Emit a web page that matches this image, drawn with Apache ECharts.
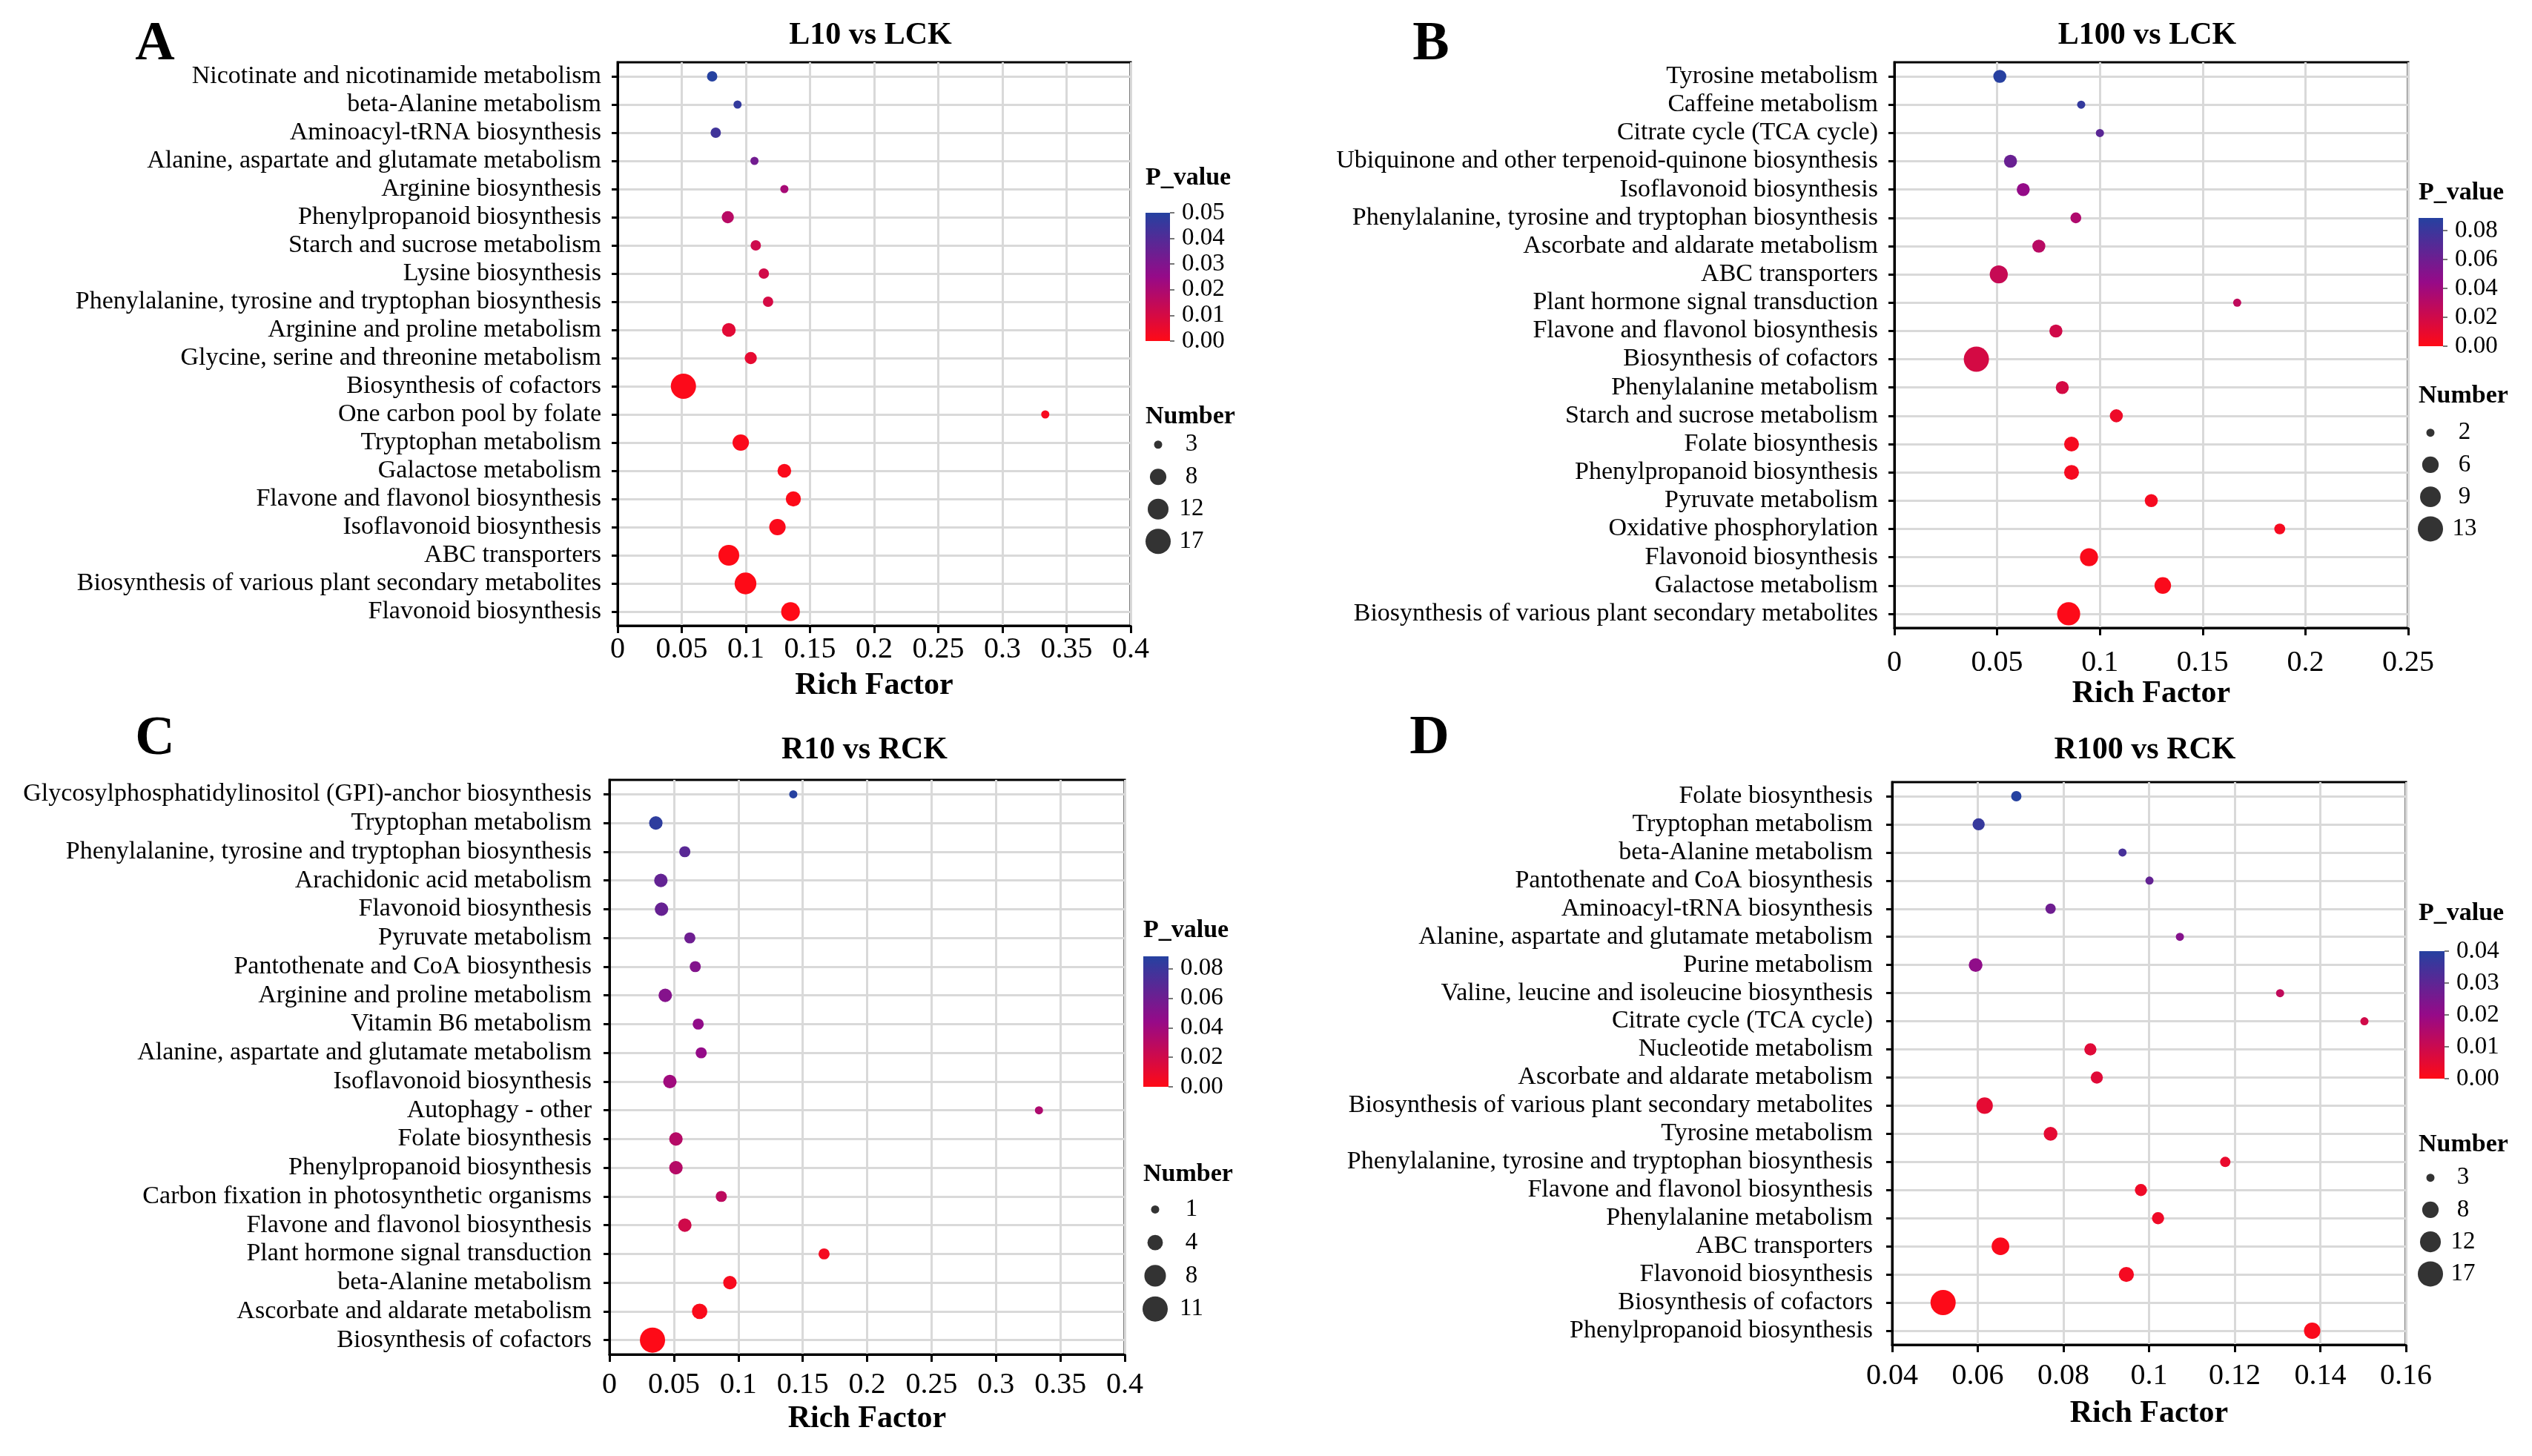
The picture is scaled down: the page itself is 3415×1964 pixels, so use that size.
<!DOCTYPE html>
<html><head><meta charset="utf-8">
<script src="https://cdn.jsdelivr.net/npm/echarts@6/dist/echarts.min.js"></script>
<style>html,body{margin:0;padding:0;background:#fff}#c{width:3415px;height:1964px}</style>
</head><body><div id="c"></div>
<script>
// ---------- DATA ----------
const catsA = ['Nicotinate and nicotinamide metabolism','beta-Alanine metabolism','Aminoacyl-tRNA biosynthesis','Alanine, aspartate and glutamate metabolism','Arginine biosynthesis','Phenylpropanoid biosynthesis','Starch and sucrose metabolism','Lysine biosynthesis','Phenylalanine, tyrosine and tryptophan biosynthesis','Arginine and proline metabolism','Glycine, serine and threonine metabolism','Biosynthesis of cofactors','One carbon pool by folate','Tryptophan metabolism','Galactose metabolism','Flavone and flavonol biosynthesis','Isoflavonoid biosynthesis','ABC transporters','Biosynthesis of various plant secondary metabolites','Flavonoid biosynthesis'];
const richA = [0.0737,0.0935,0.0765,0.1067,0.1300,0.0859,0.1077,0.1140,0.1173,0.0867,0.1038,0.0513,0.3334,0.0960,0.1300,0.1370,0.1246,0.0867,0.0997,0.1348];
const pA = [0.050,0.047,0.044,0.033,0.021,0.017,0.012,0.011,0.010,0.007,0.006,0.0008,0.002,0.001,0.001,0.0005,0.001,0.0003,0.0002,0.0001];
const numA = [4,3,4,3,3,5,4,4,4,6,5,17,3,8,6,7,8,12,13,10];

const catsB = ['Tyrosine metabolism','Caffeine metabolism','Citrate cycle (TCA cycle)','Ubiquinone and other terpenoid-quinone biosynthesis','Isoflavonoid biosynthesis','Phenylalanine, tyrosine and tryptophan biosynthesis','Ascorbate and aldarate metabolism','ABC transporters','Plant hormone signal transduction','Flavone and flavonol biosynthesis','Biosynthesis of cofactors','Phenylalanine metabolism','Starch and sucrose metabolism','Folate biosynthesis','Phenylpropanoid biosynthesis','Pyruvate metabolism','Oxidative phosphorylation','Flavonoid biosynthesis','Galactose metabolism','Biosynthesis of various plant secondary metabolites'];
const richB = [0.0513,0.0909,0.1000,0.0565,0.0627,0.0883,0.0703,0.0508,0.1668,0.0786,0.0399,0.0817,0.1080,0.0862,0.0862,0.1250,0.1875,0.0947,0.1306,0.0848];
const pB = [0.088,0.083,0.068,0.062,0.045,0.034,0.030,0.024,0.027,0.020,0.018,0.018,0.007,0.004,0.004,0.004,0.004,0.002,0.002,0.001];
const numB = [4,2,2,4,4,3,4,7,2,4,13,4,4,5,5,4,3,7,6,11];

const catsC = ['Glycosylphosphatidylinositol (GPI)-anchor biosynthesis','Tryptophan metabolism','Phenylalanine, tyrosine and tryptophan biosynthesis','Arachidonic acid metabolism','Flavonoid biosynthesis','Pyruvate metabolism','Pantothenate and CoA biosynthesis','Arginine and proline metabolism','Vitamin B6 metabolism','Alanine, aspartate and glutamate metabolism','Isoflavonoid biosynthesis','Autophagy - other','Folate biosynthesis','Phenylpropanoid biosynthesis','Carbon fixation in photosynthetic organisms','Flavone and flavonol biosynthesis','Plant hormone signal transduction','beta-Alanine metabolism','Ascorbate and aldarate metabolism','Biosynthesis of cofactors'];
const richC = [0.1427,0.0360,0.0585,0.0399,0.0404,0.0624,0.0666,0.0433,0.0689,0.0712,0.0469,0.3334,0.0516,0.0516,0.0868,0.0585,0.1666,0.0935,0.0700,0.0334];
const pC = [0.088,0.085,0.068,0.064,0.063,0.060,0.052,0.051,0.046,0.045,0.040,0.034,0.031,0.031,0.028,0.020,0.004,0.003,0.002,0.0005];
const numC = [1,3,2,3,3,2,2,3,2,2,3,1,3,3,2,3,2,3,4,11];

const catsD = ['Folate biosynthesis','Tryptophan metabolism','beta-Alanine metabolism','Pantothenate and CoA biosynthesis','Aminoacyl-tRNA biosynthesis','Alanine, aspartate and glutamate metabolism','Purine metabolism','Valine, leucine and isoleucine biosynthesis','Citrate cycle (TCA cycle)','Nucleotide metabolism','Ascorbate and aldarate metabolism','Biosynthesis of various plant secondary metabolites','Tyrosine metabolism','Phenylalanine, tyrosine and tryptophan biosynthesis','Flavone and flavonol biosynthesis','Phenylalanine metabolism','ABC transporters','Flavonoid biosynthesis','Biosynthesis of cofactors','Phenylpropanoid biosynthesis'];
const richD = [0.0690,0.0602,0.0938,0.1001,0.0770,0.1072,0.0595,0.1306,0.1503,0.0863,0.0878,0.0616,0.0770,0.1178,0.0981,0.1021,0.0653,0.0947,0.0519,0.1381];
const pD = [0.040,0.037,0.034,0.029,0.027,0.023,0.021,0.012,0.009,0.006,0.006,0.005,0.005,0.004,0.003,0.003,0.001,0.002,0.0003,0.001];
const numD = [4,5,3,3,4,3,6,3,3,5,5,8,6,4,5,5,9,7,17,8];

// colour-bar ranges and tick labels
const pMaxA = 0.05,   pTicksA = [0,0.01,0.02,0.03,0.04,0.05];
const pMaxB = 0.0888, pTicksB = [0,0.02,0.04,0.06,0.08];
const pMaxC = 0.0884, pTicksC = [0,0.02,0.04,0.06,0.08];
const pMaxD = 0.04,   pTicksD = [0,0.01,0.02,0.03,0.04];
// size legend breaks
const sizeBreaksA = [3,8,12,17];
const sizeBreaksB = [2,6,9,13];
const sizeBreaksC = [1,4,8,11];
const sizeBreaksD = [3,8,12,17];

// ---------- LAYOUT / STYLE ----------
const FONT = '"Liberation Serif","Times New Roman",serif';
const RED = '#FF0A16', MID = '#960A88', BLUE = '#2541A0';
const GRIDC = '#d9d9d9';
const DMIN = 11, DMAX = 34;

const panels = [
 {cats:catsA, rich:richA, p:pA, num:numA, pmax:pMaxA, pticks:pTicksA, pint:0.01, breaks:sizeBreaksA,
  xmin:0, xmax:0.4, xint:0.05, title:'L10 vs LCK', letter:'A',
  g:{l:833,r:1525,t:84,b:844}, lm:12, ng:60, ym:22, tp:[1174,48], lp:[209,61],
  cb:{l:1545,r:1578,t:287,b:460}, pt:[1545,240], nt:[1545,562], sz:{cx:1562,t:578,b:752,lx:1607}},
 {cats:catsB, rich:richB, p:pB, num:numB, pmax:pMaxB, pticks:pTicksB, pint:0.02, breaks:sizeBreaksB,
  xmin:0, xmax:0.25, xint:0.05, title:'L100 vs LCK', letter:'B',
  g:{l:2555,r:3248,t:84,b:847}, lm:27, ng:63, ym:22, tp:[2896,48], lp:[1930,61],
  cb:{l:3262,r:3295,t:294,b:467}, pt:[3262,260], nt:[3262,534], sz:{cx:3278,t:562,b:735,lx:3324}},
 {cats:catsC, rich:richC, p:pC, num:numC, pmax:pMaxC, pticks:pTicksC, pint:0.02, breaks:sizeBreaksC,
  xmin:0, xmax:0.4, xint:0.05, title:'R10 vs RCK', letter:'C',
  g:{l:822,r:1517,t:1052,b:1827}, lm:21, ng:66, ym:24, tp:[1166,1012], lp:[209,998],
  cb:{l:1542,r:1576,t:1290,b:1466}, pt:[1542,1255], nt:[1542,1584], sz:{cx:1558,t:1609,b:1788,lx:1607}},
 {cats:catsD, rich:richD, p:pD, num:numD, pmax:pMaxD, pticks:pTicksD, pint:0.01, breaks:sizeBreaksD,
  xmin:0.04, xmax:0.16, xint:0.02, title:'R100 vs RCK', letter:'D',
  g:{l:2552,r:3245,t:1055,b:1814}, lm:22, ng:72, ym:26, tp:[2893,1012], lp:[1928,997],
  cb:{l:3263,r:3297,t:1283,b:1455}, pt:[3262,1232], nt:[3262,1544], sz:{cx:3278,t:1567,b:1740,lx:3322}}
];

function sizeFn(breaks){
  const n0 = breaks[0], n1 = breaks[breaks.length-1];
  return n => Math.sqrt(DMIN*DMIN + (n-n0)/(n1-n0)*(DMAX*DMAX-DMIN*DMIN));
}

const grid=[], xAxis=[], yAxis=[], series=[], visualMap=[], graphic=[];
const txt = (x,y,s,size,bold,align) => ({type:'text', x:x, y:y, style:{text:s, font:(bold?'bold ':'')+size+'px '+FONT, fill:'#000', align:align||'center', verticalAlign:'middle'}});

panels.forEach((P,i)=>{
  const sf = sizeFn(P.breaks);
  // main plot
  grid.push({left:P.g.l, top:P.g.t, width:P.g.r-P.g.l, height:P.g.b-P.g.t, show:true, borderColor:'#000', borderWidth:3});
  xAxis.push({gridIndex:i, type:'value', min:P.xmin, max:P.xmax, interval:P.xint,
    axisLine:{show:true, onZero:false, lineStyle:{color:'#000', width:3}},
    axisTick:{show:true, length:10, lineStyle:{color:'#000', width:3}},
    axisLabel:{fontSize:40, fontFamily:FONT, color:'#000', margin:P.lm},
    splitLine:{show:true, lineStyle:{color:GRIDC, width:3}},
    name:'Rich Factor', nameLocation:'middle', nameGap:P.ng,
    nameTextStyle:{fontSize:42, fontWeight:'bold', fontFamily:FONT, color:'#000'}});
  yAxis.push({gridIndex:i, type:'category', data:P.cats, inverse:true,
    axisLine:{show:true, lineStyle:{color:'#000', width:3}},
    axisTick:{show:true, alignWithLabel:true, length:8, lineStyle:{color:'#000', width:3}},
    axisLabel:{fontSize:34, fontFamily:FONT, color:'#000', margin:P.ym, interval:0},
    splitLine:{show:true, alignWithLabel:true, interval:0, lineStyle:{color:GRIDC, width:3}}});
  series.push({type:'scatter', xAxisIndex:i, yAxisIndex:i,
    data:P.cats.map((c,k)=>[P.rich[k], c, P.p[k], P.num[k]]),
    encode:{x:0, y:1}, symbolSize:v=>sf(v[3]), itemStyle:{opacity:1}, silent:true});
  visualMap.push({type:'continuous', show:false, seriesIndex:i, dimension:2, min:0, max:P.pmax,
    inRange:{color:[RED, MID, BLUE]}});
});

panels.forEach((P,i)=>{
  const gi = 4+i;
  grid.push({left:P.cb.l, top:P.cb.t, width:P.cb.r-P.cb.l, height:P.cb.b-P.cb.t, show:false});
  xAxis.push({gridIndex:gi, type:'category', data:['p'], show:false});
  yAxis.push({gridIndex:gi, type:'value', min:0, max:P.pmax, interval:P.pint, position:'right',
    axisLine:{show:false},
    axisTick:{show:true, length:6, customValues:P.pticks, lineStyle:{color:'#777', width:2}},
    axisLabel:{customValues:P.pticks, formatter:v=>v.toFixed(2), fontSize:33, fontFamily:FONT, color:'#000', margin:16},
    splitLine:{show:false}});
  series.push({type:'bar', xAxisIndex:gi, yAxisIndex:gi, data:[P.pmax], barWidth:'100%', silent:true,
    itemStyle:{color:new echarts.graphic.LinearGradient(0,0,0,1,[{offset:0,color:BLUE},{offset:0.5,color:MID},{offset:1,color:RED}])}});
});

panels.forEach((P,i)=>{
  const gi = 8+i;
  const sf = sizeFn(P.breaks);
  grid.push({left:P.sz.cx-22, top:P.sz.t, width:44, height:P.sz.b-P.sz.t, show:false});
  xAxis.push({gridIndex:gi, type:'value', min:-1, max:1, show:false});
  yAxis.push({gridIndex:gi, type:'category', data:P.breaks.map(String), inverse:true, position:'right',
    axisLine:{show:false}, axisTick:{show:false}, splitLine:{show:false},
    axisLabel:{fontSize:33, fontFamily:FONT, color:'#000', align:'center', margin:P.sz.lx-(P.sz.cx+22)}});
  series.push({type:'scatter', xAxisIndex:gi, yAxisIndex:gi, silent:true,
    data:P.breaks.map(b=>[0, String(b), b]), symbolSize:v=>sf(v[2]), itemStyle:{color:'#000'}});
  graphic.push(txt(P.tp[0], P.tp[1], P.title, 42, true));
  graphic.push(txt(P.lp[0], P.lp[1], P.letter, 74, true));
  graphic.push(txt(P.pt[0], P.pt[1], 'P_value', 34, true, 'left'));
  graphic.push(txt(P.nt[0], P.nt[1], 'Number', 34, true, 'left'));
});

const chart = echarts.init(document.getElementById('c'));
chart.setOption({animation:false, backgroundColor:'#fff', grid, xAxis, yAxis, series, visualMap, graphic});
</script></body></html>
